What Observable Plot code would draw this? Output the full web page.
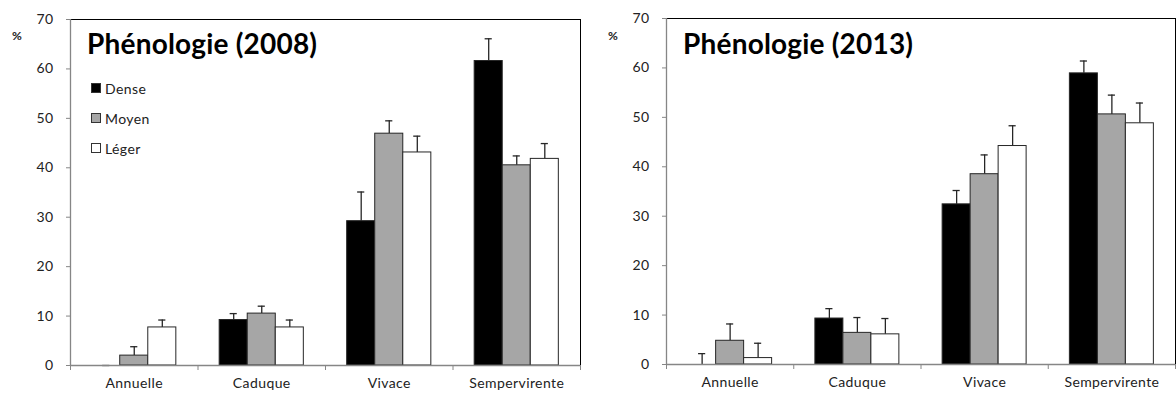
<!DOCTYPE html>
<html><head><meta charset="utf-8">
<script src="https://cdn.jsdelivr.net/npm/d3@7"></script>
<script src="https://cdn.jsdelivr.net/npm/@observablehq/plot@0.6"></script>
<style>
body{margin:0;background:#fff;font-family:Lato,"Open Sans",sans-serif;color:#222;}
#wrap{position:relative;width:1176px;height:394px;overflow:hidden;}
.panel{position:absolute;top:0;width:588px;height:394px;}
.panel svg{position:absolute;left:0;top:0;}
.title{position:absolute;font-weight:bold;font-size:28px;line-height:28px;white-space:nowrap;color:#000;letter-spacing:0.2px;}
.pct{position:absolute;font-weight:bold;font-size:12px;line-height:12px;color:#222;}
.legend{position:absolute;font-size:14px;letter-spacing:0.4px;}
.legend .row{display:flex;align-items:center;height:18px;margin-bottom:12px;}
.legend .sw{width:8px;height:8px;border:1px solid #333;margin-right:4px;}
</style></head><body><div id="wrap"></div>
<script>
const categories = ["Annuelle","Caduque","Vivace","Sempervirente"];
const series = ["Dense","Moyen","Léger"];
const seriesFill = ["#000000","#a6a6a6","#ffffff"];
const yTicks = [0,10,20,30,40,50,60,70];

const dense2008 = [0, 9.2, 29.2, 61.6];
const moyen2008 = [2.0, 10.5, 46.9, 40.5];
const leger2008 = [7.7, 7.7, 43.1, 41.8];
const denseErr2008 = [0, 1.3, 5.9, 4.5];
const moyenErr2008 = [1.8, 1.5, 2.6, 1.9];
const legerErr2008 = [1.5, 1.5, 3.3, 3.1];

const dense2013 = [0, 9.3, 32.4, 58.9];
const moyen2013 = [4.8, 6.4, 38.5, 50.6];
const leger2013 = [1.3, 6.1, 44.2, 48.8];
const denseErr2013 = [2.2, 2.0, 2.8, 2.5];
const moyenErr2013 = [3.4, 3.1, 3.9, 3.9];
const legerErr2013 = [3.0, 3.2, 4.1, 4.1];

const barW = 0.22, groupOff = 0.17, capHalf = 0.028;

function panel(left, title, vals, errs, margins, showLegend){
  const rows = [];
  categories.forEach((c,i)=>{
    series.forEach((s,k)=>{
      const x1 = i + groupOff + k*barW;
      rows.push({cat:c, s, x1, x2:x1+barW, xc:x1+barW/2, v:vals[k][i], top:vals[k][i]+errs[k][i], fill:seriesFill[k]});
    });
  });
  const plot = Plot.plot({
    width:588, height:394,
    marginLeft:margins[0], marginRight:margins[1], marginTop:margins[2], marginBottom:margins[3],
    style:{fontFamily:"Lato, 'Open Sans', sans-serif", fontSize:"14px", color:"#222", background:"transparent", letterSpacing:"0.4px"},
    x:{domain:[0,4], axis:null},
    y:{domain:[0,70], axis:null},
    marks:[
      Plot.frame({stroke:"#000"}),
      Plot.ruleX(rows,{x:"xc", y1:"v", y2:"top", stroke:"#262626", strokeWidth:1.3}),
      Plot.rectY(rows,{x1:"x1", x2:"x2", y1:0, y2:"v", fill:"fill", stroke:"#262626", strokeWidth:1}),
      Plot.ruleY(rows,{y:"top", x1:d=>d.xc-capHalf, x2:d=>d.xc+capHalf, stroke:"#262626", strokeWidth:1.3}),
      Plot.ruleX([0],{stroke:"#868686", strokeWidth:1.3}),
      Plot.ruleY([0],{stroke:"#868686", strokeWidth:1.3}),
      Plot.axisY({ticks:yTicks, tickSize:4, tickPadding:13, stroke:"#868686", fill:"#222", fontSize:14, label:null}),
      Plot.axisX({ticks:[0,1,2,3,4], tickFormat:()=>"", tickSize:5, stroke:"#868686", label:null}),
      Plot.text(categories,{x:(d,i)=>i+0.5, frameAnchor:"bottom", dy:22, fontSize:14, fill:"#222"})
    ]
  });
  const div = document.createElement("div");
  div.className = "panel";
  div.style.left = left + "px";
  div.appendChild(plot);
  const t = document.createElement("div");
  t.className = "title"; t.textContent = title;
  t.style.left = (margins[0]+17) + "px"; t.style.top = "29px";
  div.appendChild(t);
  const p = document.createElement("div");
  p.className = "pct"; p.textContent = "%";
  p.style.left = (margins[0]-58) + "px"; p.style.top = "30px";
  div.appendChild(p);
  if(showLegend){
    const lg = document.createElement("div");
    lg.className = "legend";
    lg.style.left = (margins[0]+21) + "px"; lg.style.top = "79px";
    series.forEach((s,k)=>{
      const r = document.createElement("div"); r.className="row";
      const sw = document.createElement("div"); sw.className="sw"; sw.style.background = seriesFill[k];
      const tx = document.createElement("span"); tx.textContent = s;
      r.appendChild(sw); r.appendChild(tx); lg.appendChild(r);
    });
    div.appendChild(lg);
  }
  document.getElementById("wrap").appendChild(div);
}

panel(0, "Phénologie (2008)", [dense2008, moyen2008, leger2008], [denseErr2008, moyenErr2008, legerErr2008], [70, 8, 19, 29], true);
panel(588, "Phénologie (2013)", [dense2013, moyen2013, leger2013], [denseErr2013, moyenErr2013, legerErr2013], [78, 1, 18, 30], false);
</script></body></html>
